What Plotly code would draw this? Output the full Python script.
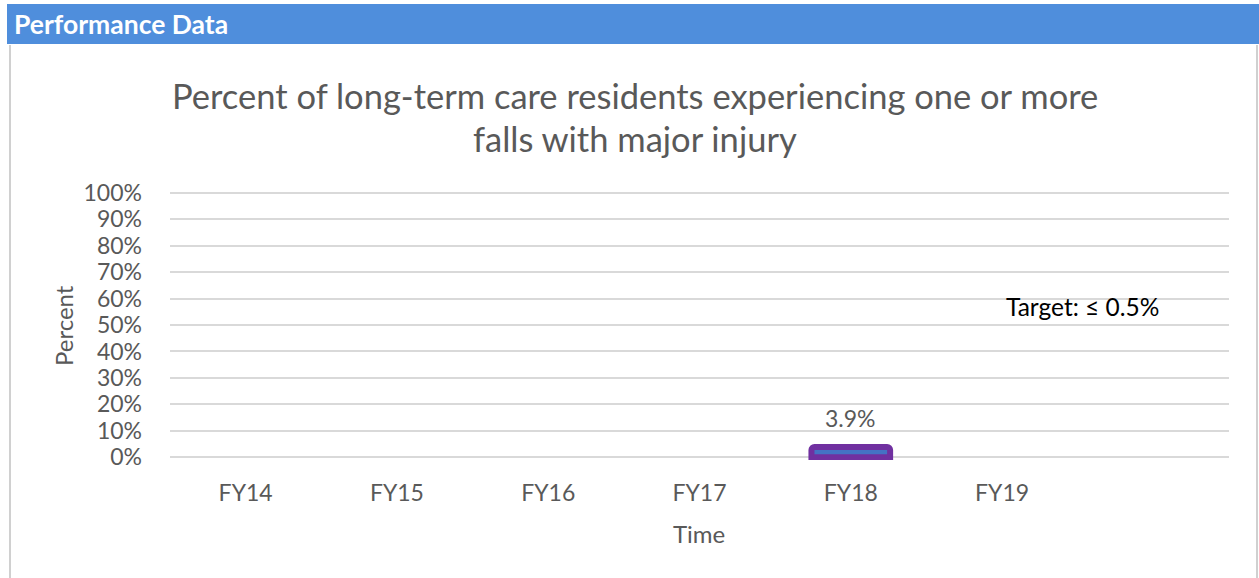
import plotly.graph_objects as go

# Fiscal-year categories (the last slot is an empty spacer column)
categories = ["FY14", "FY15", "FY16", "FY17", "FY18", "FY19", " "]
falls_pct = [None, None, None, None, 0.039, None, None]
y_ticks = [0, 0.1, 0.2, 0.3, 0.4, 0.5, 0.6, 0.7, 0.8, 0.9, 1.0]
y_tick_labels = ["0%", "10%", "20%", "30%", "40%", "50%", "60%", "70%", "80%", "90%", "100%"]
target_text = "Target: \u2264 0.5%"

W, H = 1259, 578
L, R, T, B = 170, 30, 190, 118
PW, PH = W - L - R, H - T - B
Y_RANGE = [-0.01, 1.01]

def px(x):
    return (x - L) / PW

def py(y):
    return (H - B - y) / PH

FONT = "Lato"
GREY = "#595959"

fig = go.Figure()
fig.add_trace(go.Bar(
    x=categories, y=falls_pct, width=0.52,
    marker=dict(color="#4472C4", line=dict(color="#7030A0", width=6), cornerradius=3),
    showlegend=False, hoverinfo="skip",
))

annotations = []
for cat, v in zip(categories, falls_pct):
    if v is not None:
        annotations.append(dict(
            x=cat, y=v, xref="x", yref="y", text=f"{v*100:.1f}%",
            showarrow=False, yanchor="bottom", yshift=13,
            font=dict(family=FONT, size=23, color=GREY),
        ))

annotations += [
    dict(x=px(12), y=py(24), xref="paper", yref="paper", text="<b>Performance Data</b>",
         showarrow=False, xanchor="left", yanchor="middle",
         font=dict(family=FONT, size=26.5, color="white")),
    dict(x=px(635), y=py(95), xref="paper", yref="paper",
         text="Percent of long-term care residents experiencing one or more",
         showarrow=False, xanchor="center", yanchor="middle",
         font=dict(family=FONT, size=34.5, color=GREY)),
    dict(x=px(635), y=py(138), xref="paper", yref="paper",
         text="falls with major injury",
         showarrow=False, xanchor="center", yanchor="middle",
         font=dict(family=FONT, size=34.5, color=GREY)),
    dict(x=px(63), y=py(326), xref="paper", yref="paper", text="Percent",
         showarrow=False, textangle=-90, xanchor="center", yanchor="middle",
         font=dict(family=FONT, size=24, color=GREY)),
    dict(x=px(699), y=py(533), xref="paper", yref="paper", text="Time",
         showarrow=False, xanchor="center", yanchor="middle",
         font=dict(family=FONT, size=24, color=GREY)),
    dict(x=px(1004), y=py(306), xref="paper", yref="paper", text=target_text,
         showarrow=False, xanchor="left", yanchor="middle",
         font=dict(family=FONT, size=24.5, color="black")),
]

shapes = [
    dict(type="rect", xref="paper", yref="paper", x0=px(7), x1=px(1259), y0=py(44), y1=py(4),
         fillcolor="#4F8EDC", line=dict(width=0), layer="below"),
    dict(type="line", xref="paper", yref="paper", x0=px(10), x1=px(10), y0=py(578), y1=py(45),
         line=dict(color="#D0D0D0", width=2)),
    dict(type="line", xref="paper", yref="paper", x0=px(1257), x1=px(1257), y0=py(578), y1=py(45),
         line=dict(color="#D0D0D0", width=2)),
]

fig.update_layout(
    width=W, height=H,
    margin=dict(l=L, r=R, t=T, b=B, pad=0),
    paper_bgcolor="white", plot_bgcolor="white",
    annotations=annotations, shapes=shapes,
    xaxis=dict(
        type="category", categoryorder="array", categoryarray=categories,
        showgrid=False, showline=False, zeroline=False, ticks="",
        tickfont=dict(family=FONT, size=23, color=GREY), ticklabelstandoff=17,
        fixedrange=True,
    ),
    yaxis=dict(
        range=Y_RANGE, tickvals=y_ticks, ticktext=y_tick_labels,
        showgrid=True, gridcolor="#D9D9D9", gridwidth=1.5,
        zeroline=False, showline=False, ticks="",
        tickfont=dict(family=FONT, size=23, color=GREY), ticklabelstandoff=27,
        fixedrange=True,
    ),
)

fig.write_html("out.html", config=dict(displayModeBar=False))
